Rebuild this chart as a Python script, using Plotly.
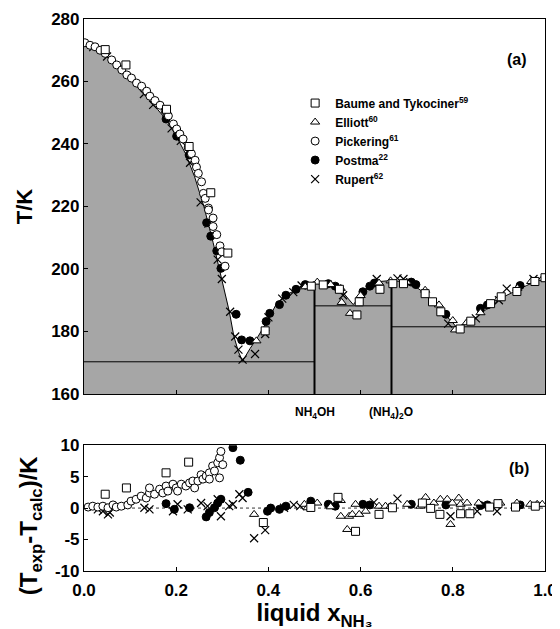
import plotly.graph_objects as go

# ---------------- data ----------------
# calculated liquidus (top panel)
calc_x = [0.0, 0.05, 0.10, 0.13, 0.16, 0.18, 0.20, 0.22, 0.24, 0.26, 0.28, 0.30, 0.315, 0.325,
          0.335, 0.344, 0.36, 0.378, 0.40, 0.418, 0.44, 0.469, 0.50, 0.52, 0.555, 0.584, 0.613,
          0.642, 0.667, 0.707, 0.74, 0.772, 0.798, 0.808, 0.83, 0.852, 0.902, 0.96, 1.0]
calc_T = [272.9, 268.0, 260.5, 256.0, 251.0, 247.5, 242.5, 237.0, 229.5, 220.0, 208.5, 196.5, 186.5, 178.5,
          173.5, 170.5, 174.5, 178.5, 184.0, 189.0, 191.8, 194.0, 196.0, 195.5, 193.7, 188.6, 193.7,
          196.0, 196.3, 195.7, 192.1, 186.8, 183.2, 181.3, 182.8, 184.7, 190.5, 194.7, 197.3]

# solid-phase (invariant) lines
solid_x0 = [0.0, 0.5, 0.667]
solid_x1 = [0.5, 0.667, 1.0]
solid_T = [170.3, 188.2, 181.5]
compound_x = [0.5, 0.667]
compound_Tmax = [196.0, 196.3]
compound_labels = ["NH<sub>4</sub>OH", "(NH<sub>4</sub>)<sub>2</sub>O"]

# Baume and Tykociner (squares)
baume_x = [0.046, 0.091, 0.179, 0.228, 0.275, 0.312, 0.393, 0.493, 0.519, 0.554, 0.592, 0.597, 0.642,
           0.670, 0.693, 0.740, 0.756, 0.774, 0.816, 0.839, 0.882, 0.905, 0.939, 0.978, 1.0]
baume_T = [270.2, 265.3, 251.1, 239.2, 224.4, 205.1, 180.2, 194.5, 194.9, 193.5, 185.3, 189.5, 193.5,
           195.3, 195.3, 192.1, 189.5, 186.3, 180.8, 183.3, 188.9, 191.1, 192.8, 196.0, 197.2]
baume_dx = [0.046, 0.092, 0.178, 0.227, 0.389, 0.492, 0.551, 0.589, 0.640, 0.669, 0.734, 0.752, 0.772,
            0.817, 0.837, 0.880, 0.898, 0.936, 0.979]
baume_dT = [2.2, 3.2, 5.6, 7.3, -2.3, 0.1, 1.7, -3.7, -1.0, 0.05, 0.8, -0.05, -1.0,
            -0.9, -0.9, 0.16, 0.7, 0.16, 0.3]

# Elliott (triangles)
elliott_x = [0.374, 0.48, 0.506, 0.535, 0.557, 0.559, 0.577, 0.60, 0.64, 0.665, 0.70, 0.74, 0.77,
             0.80, 0.805, 0.83, 0.86, 0.90, 0.94, 0.97, 0.995]
elliott_T = [177.0, 194.3, 195.8, 195.0, 193.8, 189.3, 185.8, 191.5, 195.5, 196.2, 195.8, 193.2, 188.5,
             183.5, 180.5, 182.8, 186.0, 190.6, 193.8, 196.0, 197.0]
elliott_dx = [0.369, 0.478, 0.485, 0.506, 0.535, 0.557, 0.557, 0.571, 0.575, 0.582, 0.589, 0.597, 0.611,
              0.640, 0.654, 0.665, 0.701, 0.730, 0.741, 0.759, 0.773, 0.788, 0.795, 0.799, 0.813,
              0.817, 0.831, 0.856, 0.903, 0.939, 0.968, 0.983, 0.994]
elliott_dT = [-1.0, 0.6, 0.05, 0.8, 0.2, 1.2, -1.3, -3.4, -1.3, -1.0, 0.6, -1.0, -0.5,
              0.3, 0.3, 0.3, 0.6, 0.3, 1.7, 0.8, 1.4, 1.4, -2.6, 0.8, 1.6,
              0.6, 0.8, 0.8, 0.8, 0.8, 0.6, 0.6, 0.6]

# Pickering (open circles)
pick_x = [0.002, 0.013, 0.024, 0.035, 0.046, 0.060, 0.071, 0.082, 0.093, 0.103, 0.114, 0.125, 0.136,
          0.143, 0.154, 0.165, 0.176, 0.183, 0.194, 0.201, 0.208, 0.215, 0.226, 0.233, 0.241, 0.244,
          0.248, 0.255, 0.259, 0.263, 0.270, 0.270, 0.280, 0.280, 0.288, 0.295, 0.299, 0.306]
pick_T = [272.4, 271.6, 271.1, 270.0, 269.0, 266.9, 265.3, 263.7, 262.1, 261.1, 259.5, 258.5, 256.9,
          255.3, 253.9, 252.4, 250.6, 249.0, 246.4, 244.8, 243.2, 241.6, 239.0, 236.9, 234.8, 232.6,
          230.6, 227.9, 224.2, 222.6, 219.5, 218.9, 216.3, 213.6, 211.0, 207.4, 205.5, 200.9]
pick_dx = [0.009, 0.019, 0.030, 0.041, 0.052, 0.063, 0.070, 0.081, 0.095, 0.102, 0.113, 0.124, 0.135,
           0.142, 0.142, 0.153, 0.164, 0.171, 0.178, 0.182, 0.193, 0.200, 0.203, 0.211, 0.221, 0.229,
           0.236, 0.240, 0.247, 0.254, 0.258, 0.265, 0.272, 0.272, 0.279, 0.283, 0.290, 0.294, 0.294,
           0.297, 0.301]
pick_dT = [0.16, 0.3, 0.16, 0.3, 0.05, 0.5, 0.16, 0.3, 0.5, 1.1, 1.4, 1.9, 1.6,
           2.4, 3.2, 2.2, 3.0, 2.4, 3.5, 2.7, 3.8, 3.2, 2.7, 3.8, 3.5, 4.0,
           4.3, 3.2, 4.3, 5.3, 4.6, 5.1, 5.6, 4.6, 6.7, 5.9, 7.2, 8.0, 4.8,
           9.0, 6.9]

# Postma (filled circles)
postma_x = [0.178, 0.201, 0.228, 0.266, 0.275, 0.288, 0.297, 0.330, 0.342, 0.360, 0.395, 0.403, 0.424,
            0.438, 0.46, 0.48, 0.53, 0.545, 0.605, 0.62, 0.63, 0.71, 0.72, 0.785, 0.86, 0.875, 0.946]
postma_T = [248.0, 242.5, 236.5, 214.8, 210.5, 205.8, 200.2, 185.5, 177.3, 177.0, 183.2, 185.8, 188.6,
            191.6, 193.5, 195.0, 195.3, 194.5, 192.7, 194.5, 195.5, 195.8, 195.0, 185.5, 187.4, 188.5, 194.7]
postma_dx = [0.178, 0.196, 0.229, 0.265, 0.272, 0.283, 0.290, 0.297, 0.323, 0.339, 0.356, 0.398, 0.405,
             0.424, 0.438, 0.492, 0.53, 0.545, 0.605, 0.62, 0.71, 0.785, 0.86, 0.875, 0.946]
postma_dT = [0.7, -0.2, 0.05, -1.4, -0.7, 0.05, 0.8, 1.4, 9.6, 7.6, 2.5, -0.5, 0.0,
             -0.2, 0.3, 1.1, 0.6, 0.3, 0.6, 0.5, 0.6, 0.5, 0.4, 0.5, 0.5]

# Rupert (crosses)
rupert_x = [0.02, 0.05, 0.13, 0.15, 0.19, 0.21, 0.23, 0.253, 0.27, 0.29, 0.299, 0.317, 0.328, 0.335,
            0.344, 0.371, 0.393, 0.40, 0.43, 0.454, 0.472, 0.562, 0.635, 0.68, 0.693, 0.79, 0.85, 0.90,
            0.917, 0.975]
rupert_T = [271.0, 268.0, 256.0, 252.5, 245.0, 241.0, 234.0, 221.3, 214.5, 203.0, 196.8, 186.3, 178.4, 174.2,
            171.0, 172.8, 179.2, 184.5, 190.5, 192.6, 194.7, 191.6, 196.8, 197.0, 196.8, 182.5, 184.2, 190.0,
            193.7, 196.8]
rupert_dx = [0.030, 0.041, 0.052, 0.056, 0.131, 0.142, 0.193, 0.203, 0.225, 0.254, 0.268, 0.290, 0.297,
             0.315, 0.323, 0.337, 0.344, 0.369, 0.393, 0.434, 0.455, 0.469, 0.629, 0.680, 0.795,
             0.853, 0.896]
rupert_dT = [-0.2, -0.5, -1.0, -0.7, 0.05, -0.2, -0.5, 0.6, -0.2, 0.8, 0.3, 1.4, -1.3,
             0.3, 0.6, 2.2, 1.6, -4.8, -3.5, 0.05, 0.5, 0.3, 0.9, 1.5, -1.3,
             -0.5, -0.5]

series = [
    ("Rupert<sup>62</sup>", rupert_x, rupert_T, rupert_dx, rupert_dT,
     dict(symbol="x-thin-open", size=8, color="black", line=dict(color="black", width=1.2))),
    ("Postma<sup>22</sup>", postma_x, postma_T, postma_dx, postma_dT,
     dict(symbol="circle", size=8, color="black", line=dict(color="black", width=1))),
    ("Pickering<sup>61</sup>", pick_x, pick_T, pick_dx, pick_dT,
     dict(symbol="circle", size=8, color="white", line=dict(color="black", width=1))),
    ("Elliott<sup>60</sup>", elliott_x, elliott_T, elliott_dx, elliott_dT,
     dict(symbol="triangle-up", size=8, color="white", line=dict(color="black", width=1))),
    ("Baume and Tykociner<sup>59</sup>", baume_x, baume_T, baume_dx, baume_dT,
     dict(symbol="square", size=8, color="white", line=dict(color="black", width=1))),
]
legend_order = ["Baume and Tykociner<sup>59</sup>", "Elliott<sup>60</sup>", "Pickering<sup>61</sup>",
                "Postma<sup>22</sup>", "Rupert<sup>62</sup>"]

FONT = "Liberation Sans"

fig = go.Figure()

# shaded solid region under liquidus
fig.add_trace(go.Scatter(x=calc_x, y=calc_T, mode="lines", fill="tozeroy",
                         fillcolor="#a6a6a6", line=dict(color="black", width=1),
                         showlegend=False, hoverinfo="skip", xaxis="x", yaxis="y"))

# invariant horizontal lines
for x0, x1, t in zip(solid_x0, solid_x1, solid_T):
    fig.add_trace(go.Scatter(x=[x0, x1], y=[t, t], mode="lines",
                             line=dict(color="black", width=1), showlegend=False,
                             hoverinfo="skip", xaxis="x", yaxis="y"))
# compound vertical lines
for cx, tm in zip(compound_x, compound_Tmax):
    fig.add_trace(go.Scatter(x=[cx, cx], y=[160, tm], mode="lines",
                             line=dict(color="black", width=2), showlegend=False,
                             hoverinfo="skip", xaxis="x", yaxis="y"))

# zero line in bottom panel
fig.add_trace(go.Scatter(x=[0, 1], y=[0, 0], mode="lines",
                         line=dict(color="black", width=0.8, dash="dot"), showlegend=False,
                         hoverinfo="skip", xaxis="x2", yaxis="y2"))

rank = {n: i for i, n in enumerate(legend_order)}
for name, tx, tT, dx, dT, mk in series:
    fig.add_trace(go.Scatter(x=tx, y=tT, mode="markers", name=name, marker=mk,
                             legendrank=rank[name] + 1, xaxis="x", yaxis="y"))
    fig.add_trace(go.Scatter(x=dx, y=dT, mode="markers", name=name, marker=mk,
                             showlegend=False, xaxis="x2", yaxis="y2"))

for cx, lab in zip(compound_x, compound_labels):
    fig.add_annotation(x=cx, y=-0.025, xref="x", yref="y domain", text=lab, showarrow=False,
                       font=dict(family=FONT, size=12, color="black", weight="bold"),
                       yanchor="top", xanchor="center")

fig.add_annotation(x=0.939, y=0.891, xref="x domain", yref="y domain", text="(a)", showarrow=False,
                   xanchor="center", yanchor="middle",
                   font=dict(family=FONT, size=16, color="black", weight="bold"))
fig.add_annotation(x=0.944, y=0.817, xref="x2 domain", yref="y2 domain", text="(b)", showarrow=False,
                   xanchor="center", yanchor="middle",
                   font=dict(family=FONT, size=16, color="black", weight="bold"))

# bottom-panel y title (placed like the reference, slightly below the panel centre)
fig.add_annotation(x=-0.117, y=0.083, xref="paper", yref="paper",
                   text="(T<sub>exp</sub>-T<sub>calc</sub>)/K", showarrow=False, textangle=-90,
                   xanchor="center", yanchor="middle",
                   font=dict(family=FONT, size=24, color="black", weight="bold"))

tickfont = dict(family=FONT, size=17, color="black", weight="bold")
axis_common = dict(showline=True, linecolor="black", linewidth=1.2, mirror=True, automargin=False,
                   ticks="inside", ticklen=4, tickcolor="black", showgrid=False, zeroline=False)

# page is offset by the 8px default body margin: compensate in the margins
fig.update_layout(
    width=560, height=629,
    margin=dict(l=76, r=23, t=11, b=66),
    plot_bgcolor="white", paper_bgcolor="white",
    xaxis=dict(domain=[0, 1], range=[0, 1], anchor="y", showticklabels=False, dtick=0.2,
               **axis_common),
    yaxis=dict(domain=[0.3207, 1], range=[160, 280], dtick=20, anchor="x", tickfont=tickfont,
               title=dict(text="T/K", font=dict(family=FONT, size=22, color="black", weight="bold"),
                          standoff=12),
               **axis_common),
    xaxis2=dict(domain=[0, 1], range=[0, 1], anchor="y2", matches="x", dtick=0.2, tickformat=".1f",
                tickfont=tickfont, ticklabelstandoff=3,
                title=dict(text="liquid x<sub>NH₃</sub>",
                           font=dict(family=FONT, size=24, color="black", weight="bold"), standoff=0),
                **axis_common),
    yaxis2=dict(domain=[0, 0.228], range=[-10, 10], anchor="x2",
                tickvals=[-10, -5, 0, 5, 10], ticktext=["-10", "-5", "0", "5", "10"],
                tickfont=tickfont,
                **axis_common),
    legend=dict(x=0.458, y=0.874, xanchor="left", yanchor="top", bgcolor="rgba(0,0,0,0)",
                font=dict(family=FONT, size=12, color="black", weight="bold"),
                traceorder="normal", itemwidth=30),
    showlegend=True,
)

fig.write_html("out.html")
